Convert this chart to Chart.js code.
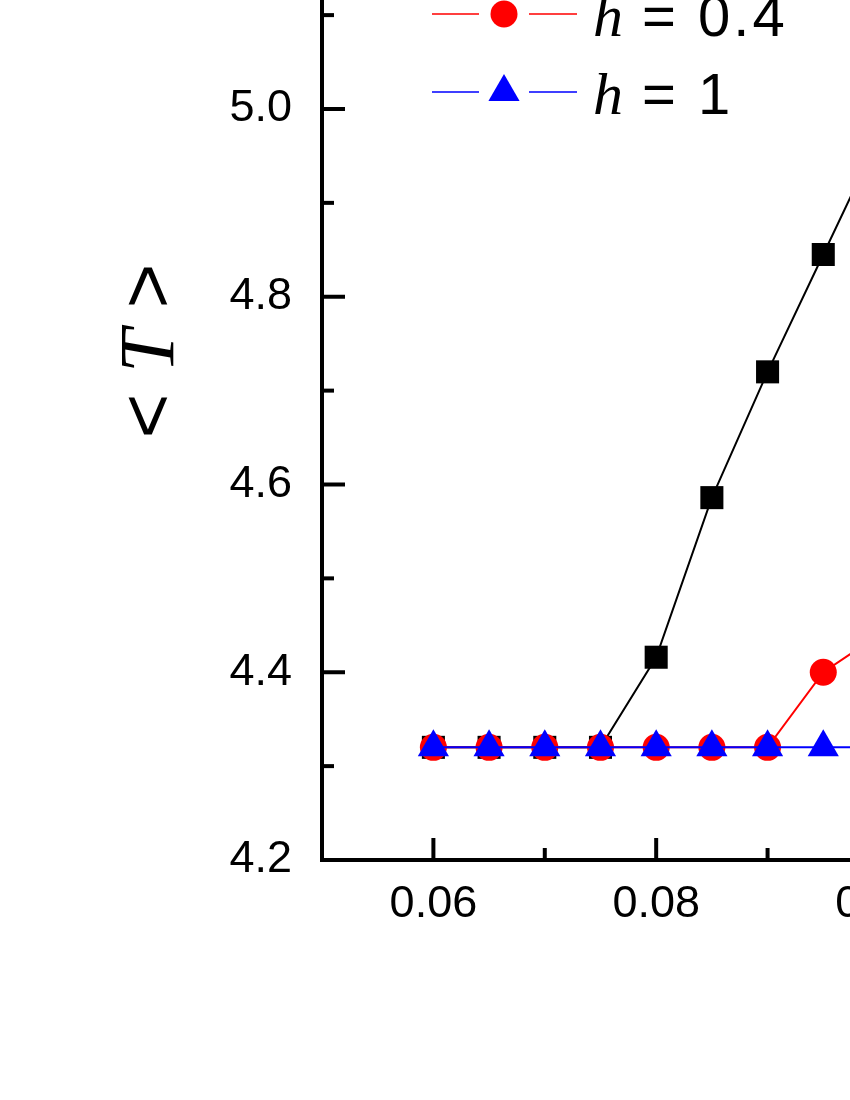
<!DOCTYPE html>
<html>
<head>
<meta charset="utf-8">
<script src="https://cdn.jsdelivr.net/npm/chart.js@4.4.1/dist/chart.umd.min.js"></script>
<style>
  html, body { margin: 0; padding: 0; background: #fff; }
  canvas { display: block; }
</style>
</head>
<body>
<canvas id="chart" width="850" height="1100"></canvas>
<script>
// Values (x = parameter, y = <T>)
const xValues   = [0.06, 0.065, 0.07, 0.075, 0.08, 0.085, 0.09, 0.095, 0.10];
const h0Values  = [4.32, 4.32, 4.32, 4.32, 4.416, 4.586, 4.72, 4.845, 4.97];
const h04Values = [4.32, 4.32, 4.32, 4.32, 4.32, 4.32, 4.32, 4.40, 4.44];
const h1Values  = [4.32, 4.32, 4.32, 4.32, 4.32, 4.32, 4.32, 4.32, 4.32];
const hLabels = ['0', '0.4', '1'];
const xTickLabels = ['0.06', '0.08', '0.10'];
const yTickLabels = ['4.2', '4.4', '4.6', '4.8', '5.0'];

const SANS = '"Liberation Sans", Arial, sans-serif';
const SERIF = '"Liberation Serif", "Times New Roman", serif';

function toPoints(values) {
    return xValues.map((x, i) => ({ x: x, y: values[i] }));
}

// drop the label padding chart.js reserves, the figure is cropped at top/right
function noPadding(s) {
    s.paddingTop = 0;
    s.paddingBottom = 0;
    s.paddingLeft = 0;
    s.paddingRight = 0;
}

// Origin-style axes: thick lines, ticks pointing inwards, some labels drawn by hand
const axesPlugin = {
    id: 'originAxes',
    afterDraw(chart) {
        const ctx = chart.ctx;
        const area = chart.chartArea;
        const xs = chart.scales.x;
        const ys = chart.scales.y;
        ctx.save();
        ctx.strokeStyle = '#000';
        ctx.lineWidth = 4;
        ctx.lineCap = 'butt';

        // axis lines
        ctx.beginPath();
        ctx.moveTo(area.left, 0);
        ctx.lineTo(area.left, area.bottom);
        ctx.lineTo(area.right, area.bottom);
        ctx.stroke();

        // y ticks
        ys.ticks.forEach(t => {
            const y = ys.getPixelForValue(t.value);
            const major = yTickLabels.includes(t.value.toFixed(1));
            ctx.beginPath();
            ctx.moveTo(area.left, y);
            ctx.lineTo(area.left + (major ? 23 : 12), y);
            ctx.stroke();
        });

        // x ticks
        xs.ticks.forEach(t => {
            const x = xs.getPixelForValue(t.value);
            const major = xTickLabels.includes(t.value.toFixed(2));
            ctx.beginPath();
            ctx.moveTo(x, area.bottom);
            ctx.lineTo(x, area.bottom - (major ? 22 : 12));
            ctx.stroke();
        });

        // x tick labels (the last one runs off the right edge)
        ctx.fillStyle = '#000';
        ctx.font = '45px ' + SANS;
        ctx.textAlign = 'center';
        ctx.textBaseline = 'alphabetic';
        xTickLabels.forEach(lbl => {
            ctx.fillText(lbl, xs.getPixelForValue(parseFloat(lbl)), area.bottom + 57);
        });

        // y axis title: < T >
        ctx.translate(area.left - 149, area.top + 351);
        ctx.rotate(-Math.PI / 2);
        const parts = [
            { t: '< ', f: '76px ' + SANS },
            { t: 'T', f: 'italic 78px ' + SERIF },
            { t: ' >', f: '76px ' + SANS }
        ];
        let total = 0;
        parts.forEach(p => { ctx.font = p.f; p.w = ctx.measureText(p.t).width; total += p.w; });
        let cx = -total / 2;
        ctx.textAlign = 'left';
        parts.forEach(p => { ctx.font = p.f; ctx.fillText(p.t, cx, 0); cx += p.w; });
        ctx.restore();
    }
};

// Legend drawn by hand so the italic h can be mixed with the upright text
const legendPlugin = {
    id: 'originLegend',
    afterDraw(chart) {
        const ctx = chart.ctx;
        const area = chart.chartArea;
        const sets = chart.data.datasets;
        ctx.save();
        sets.forEach((ds, i) => {
            const base = area.top + 36 + 78 * (i - 1);
            const ly = base - 22;
            const x0 = area.left + 110;
            const mx = x0 + 72;
            ctx.strokeStyle = ds.borderColor;
            ctx.lineWidth = 1.5;
            ctx.beginPath();
            ctx.moveTo(x0, ly); ctx.lineTo(x0 + 47, ly);
            ctx.moveTo(x0 + 97, ly); ctx.lineTo(x0 + 145, ly);
            ctx.stroke();

            ctx.fillStyle = ds.pointBackgroundColor;
            Chart.helpers.drawPoint(ctx, {
                pointStyle: ds.pointStyle,
                radius: ds.pointRadius,
                rotation: 0,
                borderWidth: 0
            }, mx, ly);

            ctx.fillStyle = '#000';
            ctx.textBaseline = 'alphabetic';
            ctx.textAlign = 'left';
            ctx.font = 'italic 60px ' + SERIF;
            const tx = area.left + 271;
            ctx.fillText('h', tx, base);
            const hw = ctx.measureText('h').width;
            ctx.font = '58px ' + SANS;
            ctx.letterSpacing = '3px';
            ctx.fillText(' = ' + hLabels[i], tx + hw, base);
            ctx.letterSpacing = '0px';
        });
        ctx.restore();
    }
};

const chart = new Chart(document.getElementById('chart').getContext('2d'), {
    type: 'line',
    data: {
        datasets: [{
            label: 'h = ' + hLabels[0],
            data: toPoints(h0Values),
            borderColor: '#000000',
            borderWidth: 2,
            pointStyle: 'rect',
            pointRadius: 16.3,
            pointBackgroundColor: '#000000',
            pointBorderWidth: 0,
            order: 3
        }, {
            label: 'h = ' + hLabels[1],
            data: toPoints(h04Values),
            borderColor: '#ff0000',
            borderWidth: 2,
            pointStyle: 'circle',
            pointRadius: 13.5,
            pointBackgroundColor: '#ff0000',
            pointBorderWidth: 0,
            order: 2
        }, {
            label: 'h = ' + hLabels[2],
            data: toPoints(h1Values),
            borderColor: '#0000ff',
            borderWidth: 2,
            pointStyle: 'triangle',
            pointRadius: 18,
            pointBackgroundColor: '#0000ff',
            pointBorderWidth: 0,
            order: 1
        }]
    },
    options: {
        responsive: false,
        animation: false,
        devicePixelRatio: 1,
        layout: { padding: 0, autoPadding: false },
        plugins: {
            legend: { display: false },
            tooltip: { enabled: false }
        },
        scales: {
            x: {
                type: 'linear',
                min: 0.05,
                max: 0.0974,
                grid: { display: false },
                border: { display: false },
                ticks: { display: false, stepSize: 0.01, includeBounds: false },
                afterFit: s => { s.height = 240; noPadding(s); }
            },
            y: {
                min: 4.2,
                max: 5.1161,
                grid: { display: false },
                border: { display: false },
                ticks: {
                    stepSize: 0.1,
                    includeBounds: false,
                    padding: 22,
                    color: '#000',
                    font: { family: SANS, size: 45 },
                    callback: v => {
                        const s = Number(v).toFixed(1);
                        return yTickLabels.includes(s) ? s : '';
                    }
                },
                afterFit: s => { s.width = 322; noPadding(s); }
            }
        }
    },
    plugins: [axesPlugin, legendPlugin]
});
</script>
</body>
</html>
